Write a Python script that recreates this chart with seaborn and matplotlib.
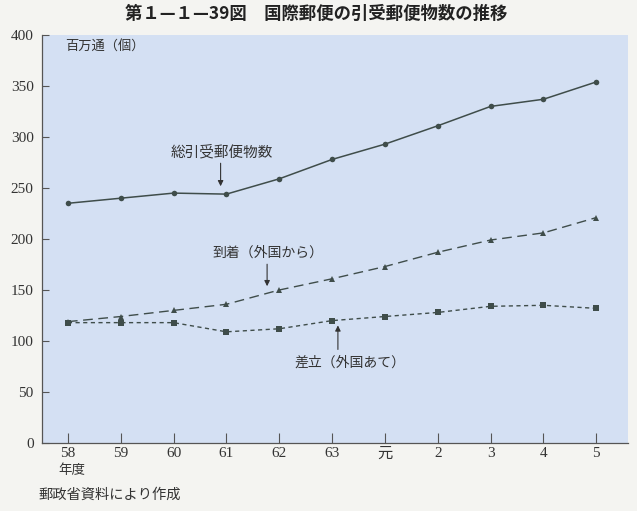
import pandas as pd
import matplotlib
matplotlib.use('Agg')
import matplotlib.pyplot as plt
import seaborn as sns

# fiscal years (Showa 58 .. Heisei 5)
years = ['58', '59', '60', '61', '62', '63', '元', '2', '3', '4', '5']
total = [235, 240, 245, 244, 259, 278, 293, 311, 330, 337, 354]      # 総引受郵便物数
arrivals = [119, 124, 130, 136, 150, 161, 173, 187, 199, 206, 221]   # 到着（外国から）
dispatch = [118, 118, 118, 109, 112, 120, 124, 128, 134, 135, 132]   # 差立（外国あて）
y_ticks = [0, 50, 100, 150, 200, 250, 300, 350, 400]

sns.set_theme(style='ticks')
plt.rcParams['font.family'] = ['Liberation Serif', 'Noto Sans CJK JP']
jp = ['Noto Sans CJK JP', 'DejaVu Sans']

df = pd.DataFrame({'idx': range(len(years)), 'total': total,
                   'arrivals': arrivals, 'dispatch': dispatch})

line_col = '#3f4d4a'
fig = plt.figure(figsize=(6.37, 5.11), dpi=100, facecolor='#f4f4f1')
ax = fig.add_axes([42/637, 1-443/511, 586/637, 408/511])
ax.set_facecolor('#d4e0f3')

sns.lineplot(data=df, x='idx', y='total', ax=ax, color=line_col, lw=1.1,
             marker='o', markersize=4, markeredgewidth=0)
sns.lineplot(data=df, x='idx', y='arrivals', ax=ax, color=line_col, lw=1.0,
             marker='^', markersize=4, markeredgewidth=0)
ax.lines[-1].set_dashes([7, 4])
sns.lineplot(data=df, x='idx', y='dispatch', ax=ax, color=line_col, lw=1.0,
             marker='s', markersize=4.5, markeredgewidth=0)
ax.lines[-1].set_dashes([3, 2.5])

ax.set_xlim(-0.49, 10.6)
ax.set_ylim(0, 400)
ax.set_yticks(y_ticks)
ax.set_xticks(range(len(years)))
ax.set_xticklabels(years)
ax.set_xlabel('')
ax.set_ylabel('')
ax.tick_params(axis='y', direction='in', length=5, width=0.8, color='#555555',
               labelsize=11, labelcolor='#333333', pad=6)
ax.tick_params(axis='x', direction='in', length=7, width=0.8, color='#555555',
               labelsize=11, labelcolor='#333333', pad=3)
sns.despine(ax=ax)
for s in ['left', 'bottom']:
    ax.spines[s].set_color('#555555')
    ax.spines[s].set_linewidth(0.9)

ax.text(-0.06, 388, '百万通（個）', family=jp, fontsize=9.5, color='#333333',
        va='center', ha='left')

arrow = dict(arrowstyle='-|>', color='#333333', lw=0.8, mutation_scale=8)
ax.annotate('', xy=(2.89, 249), xytext=(2.89, 277), arrowprops=arrow)
ax.text(2.92, 285, '総引受郵便物数', family=jp, fontsize=10.5, color='#333333',
        ha='center', va='center')
ax.annotate('', xy=(3.77, 151), xytext=(3.77, 178), arrowprops=arrow)
ax.text(3.79, 187, '到着（外国から）', family=jp, fontsize=10, color='#333333',
        ha='center', va='center')
ax.annotate('', xy=(5.11, 118), xytext=(5.11, 89), arrowprops=arrow)
ax.text(5.33, 79, '差立（外国あて）', family=jp, fontsize=10, color='#333333',
        ha='center', va='center')

fig.text(316/637, 1-14/511, '第１—１—39図　国際郵便の引受郵便物数の推移',
         family=jp, fontsize=12.5, fontweight='bold', color='#222222',
         ha='center', va='center')
fig.text(72/637, 1-470/511, '年度', family=jp, fontsize=9.7, color='#333333',
         ha='center', va='center')
fig.text(38/637, 1-495/511, '郵政省資料により作成', family=jp, fontsize=10.3,
         color='#333333', ha='left', va='center')

fig.savefig('out.png', dpi=100, facecolor=fig.get_facecolor())
